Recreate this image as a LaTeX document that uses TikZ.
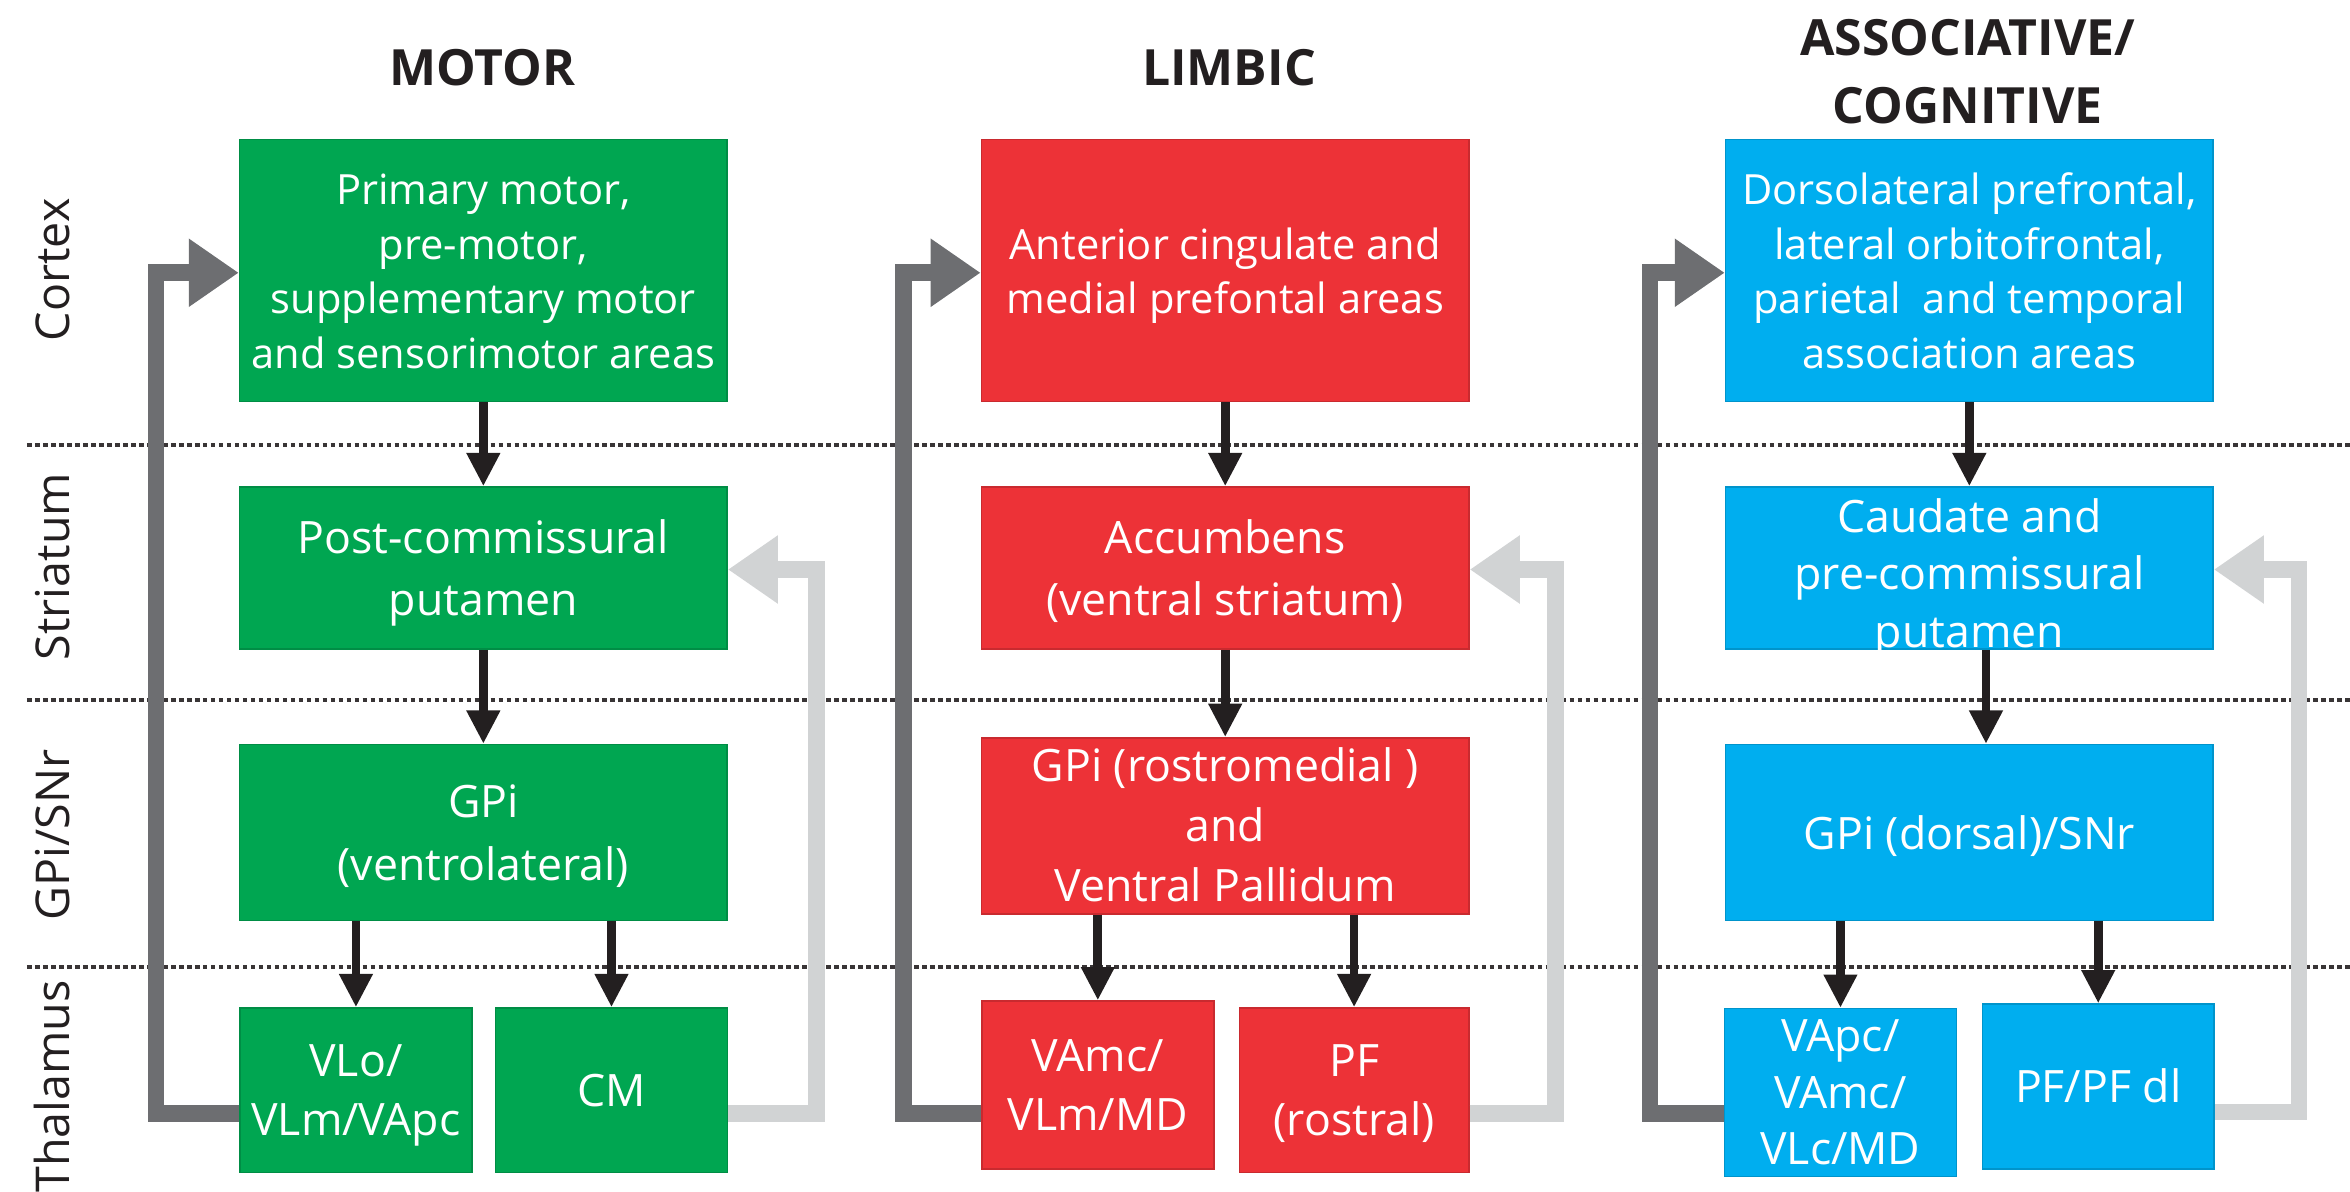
\documentclass[tikz,border=0pt]{standalone}
\usepackage{fontspec}
\setmainfont{Open Sans}
\usetikzlibrary{arrows.meta}
\definecolor{mgreen}{HTML}{00A651}
\definecolor{lred}{HTML}{ED3237}
\definecolor{ablue}{HTML}{00AEEF}
\definecolor{dgray}{HTML}{6D6E71}
\definecolor{lgray}{HTML}{D1D3D4}
\definecolor{ink}{HTML}{231F20}
\newcommand\bt[2][-0.36em]{\raisebox{#1}[0pt][0pt]{\begin{tabular}{@{}c@{}}#2\end{tabular}}}
\begin{document}
\begin{tikzpicture}[x=0.45pt,y=-0.45pt,
  box/.style={rectangle, inner sep=0pt, text=white, line width=0.5pt, font=\fontsize{13.4}{18.8}\selectfont},
  G/.style={fill=mgreen, draw=mgreen!85!black},
  R/.style={fill=lred, draw=lred!85!black},
  B/.style={fill=ablue, draw=ablue!85!black},
  cbox/.style={box, minimum width=146.4pt, minimum height=78.75pt, font=\fontsize{12.5}{16.5}\selectfont},
  sbox/.style={box, minimum width=146.4pt, minimum height=48.6pt},
  gbox/.style={box, minimum width=146.4pt, minimum height=52.8pt},
  tbox/.style={box, minimum width=69.6pt, minimum height=49.4pt, font=\fontsize{13.4}{17.6}\selectfont},
  title/.style={text=ink, align=center, font=\bfseries\fontsize{15}{20.5}\selectfont},
  rowlab/.style={text=ink, rotate=90, font=\fontsize{14}{16}\selectfont},
  sep/.style={draw=ink!90, line width=1.3pt, dash pattern=on 1.4pt off 1.0pt},
  flow/.style={draw=ink, line width=2.6pt, -{Triangle[width=9.5pt,length=10pt]}},
  fb/.style={line width=5pt, line join=miter, line cap=butt, -{Triangle[width=19.5pt,length=15pt]}}
]
\useasboundingbox (0,0) rectangle (1568,795);

% separators
\draw[sep] (18,297) -- (1568,297);
\draw[sep] (18,467) -- (1568,467);
\draw[sep] (18,645) -- (1568,645);

% titles
\node[title] (t1) at (322,45) {MOTOR};
\node[title] (t2) at (820,45) {LIMBIC};
\node[title] (t3) at (1313,48) {ASSOCIATIVE/\\COGNITIVE};

% row labels
\node[rowlab] (r1) at (35,180) {Cortex};
\node[rowlab] (r2) at (35,378) {Striatum};
\node[rowlab] (r3) at (35,557) {GPi/SNr};
\node[rowlab] (r4) at (35,725) {Thalamus};

% motor
\node[cbox,G] (mc) at (322.5,180.5) {\bt{Primary motor,\\pre-motor,\\supplementary motor\\and sensorimotor areas}};
\node[sbox,G] (ms) at (322.5,379) {\bt{Post-commissural\\putamen}};
\node[gbox,G] (mg) at (322.5,555.5) {\bt{GPi\\(ventrolateral)}};
\node[tbox,G] (mt1) at (237.5,727.5) {\bt{VLo/\\VLm/VApc}};
\node[tbox,G] (mt2) at (408,727.5) {\bt{CM}};

% limbic
\node[cbox,R] (lc) at (817.5,180.5) {\bt{Anterior cingulate and\\medial prefontal areas}};
\node[sbox,R] (ls) at (817.5,379) {\bt{Accumbens\\(ventral striatum)}};
\node[gbox,R,font=\fontsize{13.4}{18}\selectfont] (lg) at (817.5,551) {\bt{GPi (rostromedial )\\and\\Ventral Pallidum}};
\node[tbox,R,minimum height=50.4pt] (lt1) at (732.5,724) {\bt{VAmc/\\VLm/MD}};
\node[tbox,R,minimum width=68.9pt] (lt2) at (903.5,727.5) {\bt{PF\\(rostral)}};

% associative
\node[cbox,B] (ac) at (1314,180.5) {\bt{Dorsolateral prefrontal,\\lateral orbitofrontal,\\parietal\ \ and temporal\\association areas}};
\node[sbox,B,font=\fontsize{13.4}{17.2}\selectfont] (as) at (1314,379) {\bt[-0.5em]{Caudate and\\pre-commissural\\putamen}};
\node[gbox,B] (ag) at (1314,555.5) {\bt{GPi (dorsal)/SNr}};
\node[tbox,B,minimum height=50.4pt,font=\fontsize{13.4}{17.1}\selectfont] (at1) at (1228,729) {\bt{VApc/\\VAmc/\\VLc/MD}};
\node[tbox,B,minimum height=49.5pt] (at2) at (1400,725) {\bt{PF/PF dl}};

% forward arrows
\draw[flow] (mc.south) -- (ms.north);
\draw[flow] (ms.south) -- (mg.north);
\draw[flow] (mg.south -| mt1.north) -- (mt1.north);
\draw[flow] (mg.south -| mt2.north) -- (mt2.north);

\draw[flow] (lc.south) -- (ls.north);
\draw[flow] (ls.south) -- (lg.north);
\draw[flow] (lg.south -| lt1.north) -- (lt1.north);
\draw[flow] (lg.south -| lt2.north) -- (lt2.north);

\draw[flow] (ac.south) -- (as.north);
\draw[flow] ([xshift=5pt]as.south) -- ([xshift=5pt]ag.north);
\draw[flow] (ag.south -| at1.north) -- (at1.north);
\draw[flow] (ag.south -| at2.north) -- (at2.north);

% feedback loops
\coordinate (mb1) at (104,743);
\coordinate (mb2) at (104,182);
\coordinate (mr1) at (545,743);
\coordinate (mr2) at (545,380);
\coordinate (lb1) at (603,743);
\coordinate (lb2) at (603,182);
\coordinate (lr1) at (1038,743);
\coordinate (lr2) at (1038,380);
\coordinate (ab1) at (1101,743);
\coordinate (ab2) at (1101,182);
\coordinate (ar1) at (1534,742);
\coordinate (ar2) at (1534,380);

\draw[fb, dgray] (mt1.west |- mb1) -- (mb1) -- (mb2) -- (mc.west |- mb2);
\draw[fb, lgray] (mt2.east |- mr1) -- (mr1) -- (mr2) -- (ms.east |- mr2);
\draw[fb, dgray] (lt1.west |- lb1) -- (lb1) -- (lb2) -- (lc.west |- lb2);
\draw[fb, lgray] (lt2.east |- lr1) -- (lr1) -- (lr2) -- (ls.east |- lr2);
\draw[fb, dgray] (at1.west |- ab1) -- (ab1) -- (ab2) -- (ac.west |- ab2);
\draw[fb, lgray] (at2.east |- ar1) -- (ar1) -- (ar2) -- (as.east |- ar2);
\end{tikzpicture}
\end{document}
